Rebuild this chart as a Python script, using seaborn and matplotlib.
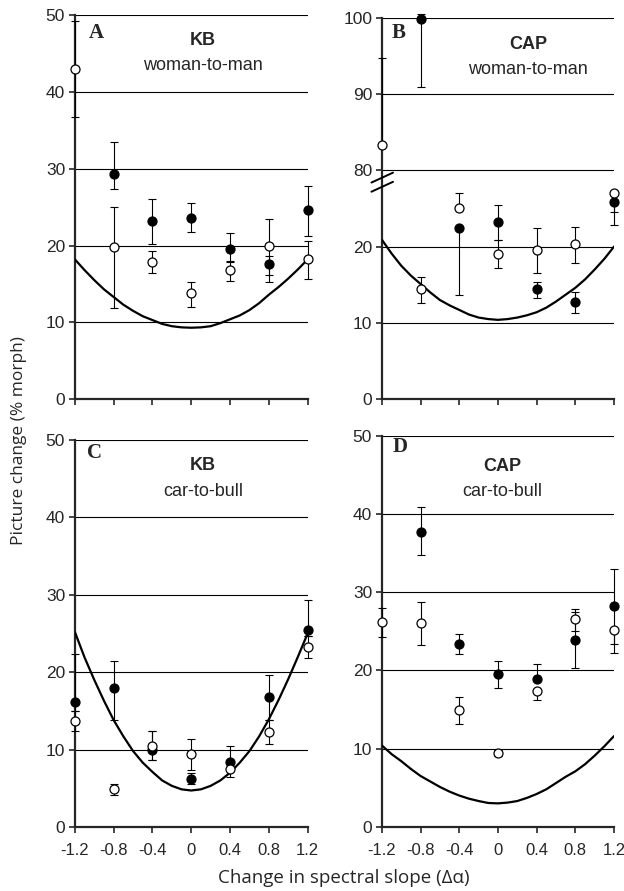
import numpy as np
import seaborn as sns
import matplotlib.pyplot as plt

# x positions (change in spectral slope)
slopes = [-1.2, -0.8, -0.4, 0.0, 0.4, 0.8, 1.2]
slope_labels = ["-1.2", "-0.8", "-0.4", "0", "0.4", "0.8", "1.2"]
fit_x = [-1.2, -1.1, -1.0, -0.9, -0.8, -0.7, -0.6, -0.5, -0.4, -0.3, -0.2, -0.1, 0.0,
         0.1, 0.2, 0.3, 0.4, 0.5, 0.6, 0.7, 0.8, 0.9, 1.0, 1.1, 1.2]
nan = np.nan

# ---- A: KB, woman-to-man
a_fill = [nan, 29.3, 23.2, 23.6, 19.6, 17.6, 24.6]
a_fill_lo = [nan, 27.3, 20.2, 21.8, 18.0, 15.3, 21.2]
a_fill_hi = [nan, 33.5, 26.0, 25.6, 21.6, 18.6, 27.7]
a_open = [43.0, 19.8, 17.9, 13.8, 16.8, 19.9, 18.2]
a_open_lo = [36.8, 11.9, 16.4, 12.0, 15.4, 16.2, 15.7]
a_open_hi = [49.3, 25.0, 19.3, 15.3, 17.9, 23.4, 20.6]
a_fit = [18.2, 16.8, 15.5, 14.3, 13.3, 12.3, 11.5, 10.8, 10.3, 9.8, 9.5, 9.35, 9.3,
         9.35, 9.5, 9.9, 10.4, 10.9, 11.6, 12.5, 13.6, 14.6, 15.7, 16.9, 18.2]

# ---- B: CAP, woman-to-man (broken axis above ~27)
b_fill = [nan, 99.8, 22.5, 23.2, 14.5, 12.7, 25.9]
b_fill_lo = [nan, 90.9, 13.7, 20.9, 13.2, 11.3, 22.8]
b_fill_hi = [nan, 100.5, 22.5, 25.4, 15.4, 14.1, 25.9]
b_open = [83.3, 14.4, 25.0, 19.0, 19.6, 20.3, 27.0]
b_open_lo = [83.3, 12.6, 25.0, 17.2, 16.6, 17.9, 24.6]
b_open_hi = [94.7, 16.0, 27.2, 20.9, 22.5, 22.6, 27.0]
b_fit = [20.9, 19.1, 17.5, 16.2, 15.1, 14.0, 13.0, 12.3, 11.7, 11.1, 10.7, 10.5, 10.4,
         10.5, 10.7, 11.0, 11.4, 12.0, 12.8, 13.7, 14.6, 15.7, 17.0, 18.4, 20.0]

# ---- C: KB, car-to-bull
c_fill = [16.1, 17.9, 10.0, 6.2, 8.4, 16.8, 25.5]
c_fill_lo = [15.0, 13.8, 8.6, 5.6, 7.5, 13.8, 24.7]
c_fill_hi = [22.3, 21.4, 12.4, 7.0, 10.5, 19.6, 29.3]
c_open = [13.7, 4.9, 10.5, 9.4, 7.5, 12.3, 23.3]
c_open_lo = [12.4, 4.1, 8.6, 7.4, 6.4, 10.7, 21.8]
c_open_hi = [15.0, 5.5, 12.4, 11.3, 8.4, 13.8, 24.7]
c_fit = [25.2, 21.9, 19.0, 16.3, 13.8, 11.7, 9.8, 8.3, 7.1, 6.0, 5.3, 4.85, 4.7,
         4.85, 5.3, 6.0, 7.0, 8.3, 9.8, 11.7, 13.9, 16.4, 19.1, 22.0, 25.0]

# ---- D: CAP, car-to-bull
d_fill = [nan, 37.7, 23.4, 19.6, 18.9, 23.9, 28.2]
d_fill_lo = [nan, 34.7, 22.1, 17.8, 18.9, 20.3, 23.4]
d_fill_hi = [nan, 40.9, 24.6, 21.2, 20.8, 27.5, 32.9]
d_open = [26.2, 26.0, 14.9, 9.4, 17.4, 26.6, 25.1]
d_open_lo = [24.3, 23.2, 13.1, 9.0, 16.2, 25.0, 22.2]
d_open_hi = [28.0, 28.8, 16.6, 9.8, 17.4, 27.9, 25.1]
d_fit = [10.4, 9.3, 8.4, 7.4, 6.5, 5.8, 5.1, 4.5, 4.0, 3.6, 3.3, 3.05, 3.0,
         3.1, 3.3, 3.7, 4.2, 4.8, 5.6, 6.4, 7.1, 8.0, 9.1, 10.3, 11.6]

panels = [
    ("A", "KB", "woman-to-man", a_fill, a_fill_lo, a_fill_hi, a_open, a_open_lo, a_open_hi, a_fit),
    ("B", "CAP", "woman-to-man", b_fill, b_fill_lo, b_fill_hi, b_open, b_open_lo, b_open_hi, b_fit),
    ("C", "KB", "car-to-bull", c_fill, c_fill_lo, c_fill_hi, c_open, c_open_lo, c_open_hi, c_fit),
    ("D", "CAP", "car-to-bull", d_fill, d_fill_lo, d_fill_hi, d_open, d_open_lo, d_open_hi, d_fit),
]


# piecewise scale for the broken axis in panel B
def brk_fwd(v):
    v = np.asarray(v, dtype=float)
    return np.where(v <= 27, v, np.where(v < 80, 27 + (v - 27) * 3 / 53, v - 50))


def brk_inv(d):
    d = np.asarray(d, dtype=float)
    return np.where(d <= 27, d, np.where(d < 30, 27 + (d - 27) * 53 / 3, d + 50))


sns.set_style("ticks")
plt.rcParams["font.family"] = ["Liberation Sans", "DejaVu Sans"]

fig = plt.figure(figsize=(6.24, 8.91), dpi=100)
boxes = [
    [0.120, 0.552, 0.373, 0.431],
    [0.612, 0.552, 0.372, 0.428],
    [0.120, 0.072, 0.373, 0.434],
    [0.612, 0.072, 0.372, 0.439],
]
title_pos = [(0.55, 0.935, 0.87), (0.63, 0.93, 0.864), (0.55, 0.935, 0.866), (0.52, 0.92, 0.857)]
letter_pos = [(0.094, 0.953), (0.073, 0.96), (0.086, 0.966), (0.078, 0.97)]

for i, (letter, who, what, fv, flo, fhi, ov, olo, ohi, fit) in enumerate(panels):
    ax = fig.add_axes(boxes[i])
    fv, flo, fhi = np.array(fv), np.array(flo), np.array(fhi)
    ov, olo, ohi = np.array(ov), np.array(olo), np.array(ohi)

    sns.lineplot(x=fit_x, y=fit, color="k", lw=1.6, ax=ax, zorder=3)
    ax.errorbar(slopes, fv, yerr=[fv - flo, fhi - fv], fmt="none", ecolor="k",
                elinewidth=0.8, capsize=3, capthick=0.8, zorder=4, clip_on=False)
    ax.errorbar(slopes, ov, yerr=[ov - olo, ohi - ov], fmt="none", ecolor="k",
                elinewidth=0.8, capsize=3, capthick=0.8, zorder=4, clip_on=False)
    sns.scatterplot(x=slopes, y=fv, color="k", edgecolor="k", s=42, lw=0.9,
                    ax=ax, zorder=5, clip_on=False)
    sns.scatterplot(x=slopes, y=ov, color="white", edgecolor="k", s=42, lw=0.9,
                    ax=ax, zorder=6, clip_on=False)

    ax.set_xlim(-1.2, 1.2)
    if letter == "B":
        ax.set_yscale("function", functions=(brk_fwd, brk_inv))
        ax.set_ylim(0, 100)
        ax.set_yticks([0, 10, 20, 80, 90, 100])
        # break marks on the y axis
        for y0, y1 in [(0.568, 0.594), (0.544, 0.570)]:
            ax.plot([-0.045, 0.048], [y0, y1], transform=ax.transAxes, color="k",
                    lw=1.4, clip_on=False, zorder=7)
    else:
        ax.set_ylim(0, 50)
        ax.set_yticks([0, 10, 20, 30, 40, 50])
    ax.set_yticklabels([str(int(t)) for t in ax.get_yticks()])
    ax.set_xticks(slopes)
    ax.set_xticklabels(slope_labels if i >= 2 else [""] * len(slopes))

    ax.yaxis.grid(True, color="k", lw=0.8)
    ax.set_axisbelow(True)
    sns.despine(ax=ax)
    for sp in ["left", "bottom"]:
        ax.spines[sp].set_linewidth(1.6)
    ax.tick_params(axis="y", length=4, width=1.2, pad=3, labelsize=12.5)
    ax.tick_params(axis="x", length=4.5, width=1.2, pad=7, labelsize=12)
    ax.set_xlabel("")
    ax.set_ylabel("")

    tx, ty1, ty2 = title_pos[i]
    ax.text(tx, ty1, who, transform=ax.transAxes, ha="center", va="center",
            fontsize=13, fontweight="bold")
    ax.text(tx, ty2, what, transform=ax.transAxes, ha="center", va="center", fontsize=13)
    lx, ly = letter_pos[i]
    ax.text(lx, ly, letter, transform=ax.transAxes, ha="center", va="center",
            fontsize=15, fontweight="bold", family="Liberation Serif")

fig.text(0.030, 0.506, "Picture change (% morph)", rotation=90, ha="center", va="center",
         fontsize=12.5, family=["Open Sans", "DejaVu Sans"])
fig.text(0.551, 0.0146, "Change in spectral slope (\u0394\u03b1)", ha="center", va="center",
         fontsize=13.5, family=["Open Sans", "DejaVu Sans"])

fig.savefig("out.png", dpi=100)
